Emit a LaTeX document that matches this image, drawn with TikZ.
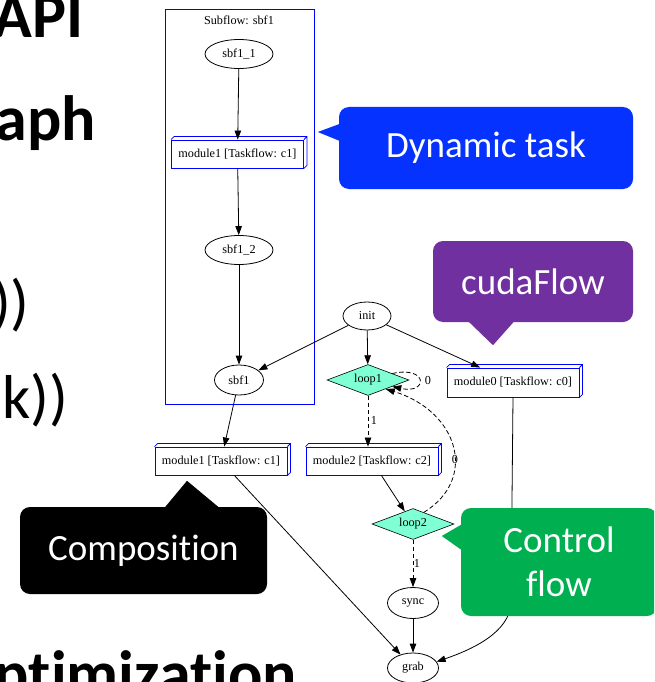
\documentclass[tikz,border=0pt]{standalone}
\usepackage{fontspec}
\setmainfont{Liberation Serif}
\newfontfamily\slidefont[RawFeature={-liga}]{Carlito}
\usetikzlibrary{shapes.geometric,arrows.meta,calc}

\definecolor{gvblue}{RGB}{0,0,255}
\definecolor{aqua}{RGB}{127,255,212}
\definecolor{dynblue}{RGB}{5,50,255}
\definecolor{cudapurple}{RGB}{112,48,160}
\definecolor{ctlgreen}{RGB}{0,176,80}

% depth edges of a graphviz-style box3d node
\newcommand\boxdepth[1]{%
  \draw[gvblue,line width=0.8pt] (#1.north west) -- ++(3,-3)
    -- ($(#1.north east)+(3,-3)$) -- ($(#1.south east)+(3,-3)$) -- (#1.south east)
    (#1.north east) -- ++(3,-3);}

\begin{document}
\begin{tikzpicture}[x=1pt,y=-1pt,
  gv/.style={font=\fontsize{12.2}{14}\selectfont},
  task/.style={gv, ellipse, draw, line width=0.8pt, fill=white, inner sep=0},
  modbox/.style={gv, rectangle, draw=gvblue, line width=0.9pt, fill=white,
    minimum width=132, minimum height=28, inner sep=0},
  cond/.style={gv, diamond, draw, line width=0.6pt, fill=aqua, aspect=2.6,
    minimum width=82, minimum height=31, inner sep=0},
  flow/.style={line width=0.8pt, -{Triangle[length=9pt,width=6.5pt]}},
  branch/.style={flow, dash pattern=on 4.5pt off 2.5pt},
  elabel/.style={gv, inner sep=1pt},
  callout/.style={rounded corners=10pt, inner sep=0, text=white,
    font=\slidefont\fontsize{37}{44}\selectfont},
  heading/.style={font=\slidefont\bfseries\fontsize{64}{70}\selectfont, inner sep=0, anchor=base east},
  bullet/.style={font=\slidefont\fontsize{62}{70}\selectfont, inner sep=0, anchor=base east},
]
\useasboundingbox (0,0) rectangle (654,682);
\clip (0,0) rectangle (654,682);
\fill[white] (0,0) rectangle (654,682);

% slide text behind the graph
\node[heading] (h1) at (84,38) {API};
\node[heading] (h2) at (96,140) {aph};
\node[bullet] (b1) at (30,323) {))};
\node[bullet] (b2) at (68,418) {k))};
\node[heading] (h3) at (297,695) {ptimization};

% subflow cluster
\node[draw=gvblue, line width=0.9pt, minimum width=149, minimum height=395, inner sep=0] (sub) at (239.5,206.5) {};
\node[gv] (subtitle) at (239,20) {Subflow: sbf1};

% tasks
\node[task, minimum width=68, minimum height=29] (s11) at (239,54) {sbf1\_1};
\node[modbox] (m1in) at (237.5,154) {module1 [Taskflow: c1]};
\boxdepth{m1in}
\node[task, minimum width=68, minimum height=29] (s12) at (239,250) {sbf1\_2};
\node[task, minimum width=49, minimum height=30] (sbf) at (239,380) {sbf1};

\node[task, minimum width=48, minimum height=28] (init) at (367,316) {init};
\node[cond] (loop1) at (368,380) {loop1};
\node[modbox, minimum height=29] (m0) at (513,382.5) {module0 [Taskflow: c0]};
\boxdepth{m0}
\node[modbox] (m1out) at (221,461) {module1 [Taskflow: c1]};
\boxdepth{m1out}
\node[modbox] (m2) at (372,461) {module2 [Taskflow: c2]};
\boxdepth{m2}
\node[cond] (loop2) at (413,524) {loop2};
\node[task, minimum width=51, minimum height=31] (sync) at (413,603) {sync};
\node[task, minimum width=51, minimum height=30] (grab) at (413,668) {grab};

% edges
\draw[flow] (s11) -- (m1in);
\draw[flow] (m1in) -- (s12);
\draw[flow] (s12) -- (sbf);
\draw[flow] (init) -- (sbf);
\draw[flow] (init) -- (loop1);
\draw[flow] (init) -- (m0);
\draw[flow] (sbf) -- (m1out);
\draw[branch] (loop1.15) .. controls +(36,-8) and +(36,8) .. (loop1.-15);
\node[elabel] (l0a) at (428,380) {0};
\draw[branch] (loop1.south) -- (loop1.south |- m2.north);
\node[elabel] (l1a) at (374,420) {1};
\draw[flow] (m2) -- (loop2);
\draw[branch] (loop2.47) .. controls +(55,-34) and +(72,22) .. (loop1.-27);
\node[elabel] (l0b) at (455,459) {0};
\draw[branch] (loop2) -- (sync);
\node[elabel] (l1b) at (417,563) {1};
\draw[flow] (sync) -- (grab);
\draw[flow] (m1out) -- (grab);
\draw[flow] (m0.south) -- ++(-2,205) .. controls +(-1,30) and +(35,-12) .. (grab.15);

% callouts
\node[callout, fill=dynblue, minimum width=294, minimum height=82] (dyn) at (486,148) {Dynamic task};
\fill[dynblue] ($(dyn.west)+(6,-26)$) -- ($(dyn.west)+(-21,-16)$) -- ($(dyn.west)+(6,-5)$) -- cycle;

\node[callout, fill=cudapurple, minimum width=200, minimum height=81] (cuda) at (533,281.5) {cudaFlow};
\fill[cudapurple] ($(cuda.south)+(-68,-4)$) -- ($(cuda.south)+(-40,23)$) -- ($(cuda.south)+(-16,-4)$) -- cycle;

\node[callout, fill=black, minimum width=247, minimum height=87] (comp) at (143.5,550.5) {Composition};
\fill[black] ($(comp.north)+(18.5,4)$) -- ($(comp.north)+(43.5,-26)$) -- ($(comp.north)+(79.5,4)$) -- cycle;

\node[callout, fill=ctlgreen, minimum width=196, minimum height=108, align=center] (ctl) at (559,562) {Control\\flow};
\fill[ctlgreen] ($(ctl.west)+(5,-40)$) -- ($(ctl.west)+(-19,-26)$) -- ($(ctl.west)+(5,-9)$) -- cycle;
\end{tikzpicture}
\end{document}
